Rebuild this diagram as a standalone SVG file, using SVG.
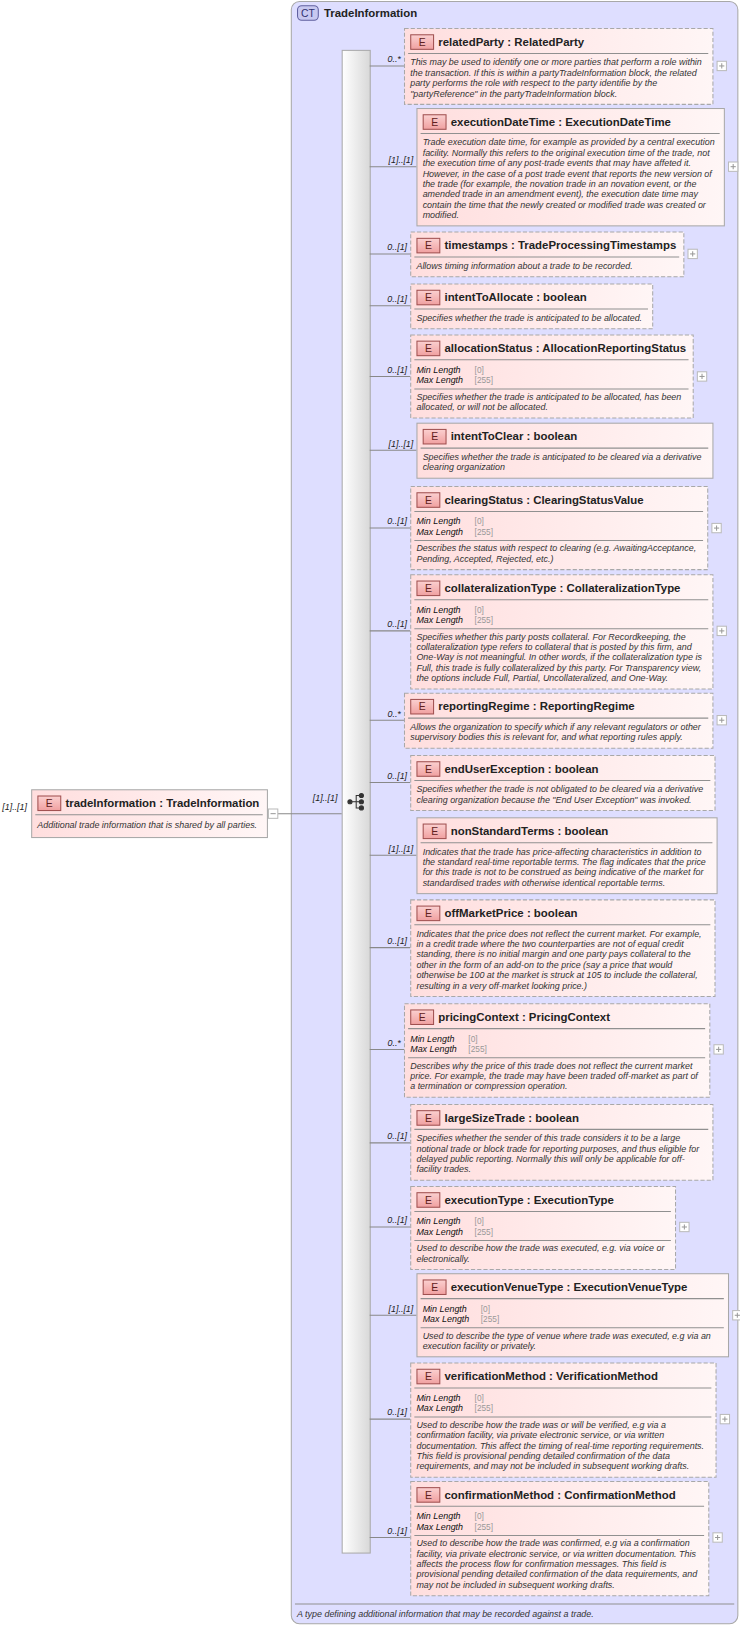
<svg xmlns="http://www.w3.org/2000/svg" width="740" height="1626" viewBox="0 0 740 1626">
<defs>
<linearGradient id="ng" x1="0" y1="0" x2="1" y2="0"><stop offset="0" stop-color="#ffdede"/><stop offset="1" stop-color="#fff6f6"/></linearGradient>
<linearGradient id="bg" x1="0" y1="0" x2="0" y2="1"><stop offset="0" stop-color="#fbd0d0"/><stop offset="1" stop-color="#f0a0a0"/></linearGradient>
<linearGradient id="sg" x1="0" y1="0" x2="1" y2="0"><stop offset="0" stop-color="#ffffff"/><stop offset="1" stop-color="#d8d8d8"/></linearGradient>
<style>
text{font-family:"Liberation Sans",Arial,sans-serif}
.req{fill:url(#ng);stroke:#a8a8a8;stroke-width:1}
.opt{fill:url(#ng);stroke:#a8a8a8;stroke-width:1;stroke-dasharray:4,2}
.badge{fill:url(#bg);stroke:#a05050;stroke-width:1}
.e{font-size:10px;fill:#602020;text-anchor:middle}
.t{font-size:11px;font-weight:bold;fill:#222}
.sep{stroke:#909090;stroke-width:1}
.d{font-size:8.6px;font-style:italic;fill:#333}
.f{font-size:8.6px;font-style:italic;fill:#111}
.fv{font-size:8px;fill:#999}
.m{font-size:8.6px;font-style:italic;fill:#222;text-anchor:end}
.ln{stroke:#888;stroke-width:1;fill:none}
.pb{fill:#fff;stroke:#bbb;stroke-width:1}
.pl{stroke:#999;stroke-width:1}
</style>
</defs>
<g transform="scale(1.0385)">
<g id="ct">
<rect x="280.5" y="1.5" width="430" height="1562" rx="8" fill="#dedeff" stroke="#a8a8a8"/>
<rect x="286.5" y="5.5" width="20" height="14" rx="4" fill="#c8c8f0" stroke="#6060a0"/>
<text x="296.5" y="16" style="font-size:10px;fill:#303070;text-anchor:middle">CT</text>
<text x="312" y="16" class="t">TradeInformation</text>
<line x1="284" y1="1544.5" x2="707" y2="1544.5" class="sep"/>
<text x="286" y="1557" class="d">A type defining additional information that may be recorded against a trade.</text>
</g>

<g id="sequence">
<rect x="329.5" y="48.5" width="27" height="1447" fill="url(#sg)" stroke="#aaa"/>
<g stroke="#333" stroke-width="1" fill="#333">
<circle cx="337" cy="772" r="2"/>
<line x1="339" y1="772" x2="343" y2="772"/>
<polyline points="347,766 343,766 343,778 347,778" fill="none"/>
<line x1="343" y1="772" x2="347" y2="772"/>
<circle cx="348" cy="766" r="2"/><circle cx="348" cy="772" r="2"/><circle cx="348" cy="778" r="2"/>
</g>
</g>

<g id="connectors">
<line x1="267" y1="783.5" x2="329" y2="783.5" class="ln"/>
<text x="325" y="771" class="m">[1]..[1]</text>
<line x1="356" y1="63.5" x2="389" y2="63.5" class="ln"/><text x="386" y="60" class="m">0..*</text>
<line x1="356" y1="160.5" x2="401" y2="160.5" class="ln"/><text x="398" y="157" class="m">[1]..[1]</text>
<line x1="356" y1="244.5" x2="395" y2="244.5" class="ln"/><text x="392" y="241" class="m">0..[1]</text>
<line x1="356" y1="294.5" x2="395" y2="294.5" class="ln"/><text x="392" y="291" class="m">0..[1]</text>
<line x1="356" y1="362.5" x2="395" y2="362.5" class="ln"/><text x="392" y="359" class="m">0..[1]</text>
<line x1="356" y1="433.5" x2="401" y2="433.5" class="ln"/><text x="398" y="430" class="m">[1]..[1]</text>
<line x1="356" y1="508.5" x2="395" y2="508.5" class="ln"/><text x="392" y="505" class="m">0..[1]</text>
<line x1="356" y1="607.5" x2="395" y2="607.5" class="ln"/><text x="392" y="604" class="m">0..[1]</text>
<line x1="356" y1="693.5" x2="389" y2="693.5" class="ln"/><text x="386" y="690" class="m">0..*</text>
<line x1="356" y1="753.5" x2="395" y2="753.5" class="ln"/><text x="392" y="750" class="m">0..[1]</text>
<line x1="356" y1="823.5" x2="401" y2="823.5" class="ln"/><text x="398" y="820" class="m">[1]..[1]</text>
<line x1="356" y1="912.5" x2="395" y2="912.5" class="ln"/><text x="392" y="909" class="m">0..[1]</text>
<line x1="356" y1="1010.5" x2="389" y2="1010.5" class="ln"/><text x="386" y="1007" class="m">0..*</text>
<line x1="356" y1="1100.5" x2="395" y2="1100.5" class="ln"/><text x="392" y="1097" class="m">0..[1]</text>
<line x1="356" y1="1181.5" x2="395" y2="1181.5" class="ln"/><text x="392" y="1178" class="m">0..[1]</text>
<line x1="356" y1="1266.5" x2="401" y2="1266.5" class="ln"/><text x="398" y="1263" class="m">[1]..[1]</text>
<line x1="356" y1="1366.5" x2="395" y2="1366.5" class="ln"/><text x="392" y="1363" class="m">0..[1]</text>
<line x1="356" y1="1480.5" x2="395" y2="1480.5" class="ln"/><text x="392" y="1477" class="m">0..[1]</text>
</g>

<g id="tradeInformation" transform="translate(30,760)">
<text x="-4" y="20" class="m">[1]..[1]</text>
<rect x="0.5" y="0.5" width="227" height="46" class="req"/>
<rect x="6.5" y="6.5" width="22" height="14" class="badge"/><text x="17.5" y="17" class="e">E</text>
<text x="33" y="17" class="t">tradeInformation : TradeInformation</text>
<line x1="4" y1="24.5" x2="223" y2="24.5" class="sep"/>
<text x="6" y="37" class="d">Additional trade information that is shared by all parties.</text>
<rect x="228.5" y="19" width="9" height="9" class="pb"/><line x1="230.5" y1="23.5" x2="235.5" y2="23.5" class="pl"/>
</g>

<g id="relatedParty" transform="translate(389,27)">
<rect x="0.5" y="0.5" width="297" height="73" class="opt"/>
<rect x="6.5" y="6.5" width="22" height="14" class="badge"/><text x="17.5" y="17" class="e">E</text>
<text x="33" y="17" class="t">relatedParty : RelatedParty</text>
<line x1="4" y1="24.5" x2="293" y2="24.5" class="sep"/>
<text x="6" y="36" class="d">This may be used to identify one or more parties that perform a role within</text>
<text x="6" y="46" class="d">the transaction. If this is within a partyTradeInformation block, the related</text>
<text x="6" y="56" class="d">party performs the role with respect to the party identifie by the</text>
<text x="6" y="66" class="d">"partyReference" in the partyTradeInformation block.</text>
<rect x="301.5" y="32" width="9" height="9" class="pb"/><line x1="303.5" y1="36.5" x2="308.5" y2="36.5" class="pl"/><line x1="306" y1="34" x2="306" y2="39" class="pl"/>
</g>

<g id="executionDateTime" transform="translate(401,104)">
<rect x="0.5" y="0.5" width="296" height="113" class="req"/>
<rect x="6.5" y="6.5" width="22" height="14" class="badge"/><text x="17.5" y="17" class="e">E</text>
<text x="33" y="17" class="t">executionDateTime : ExecutionDateTime</text>
<line x1="4" y1="24.5" x2="292" y2="24.5" class="sep"/>
<text x="6" y="36" class="d">Trade execution date time, for example as provided by a central execution</text>
<text x="6" y="46" class="d">facility. Normally this refers to the original execution time of the trade, not</text>
<text x="6" y="56" class="d">the execution time of any post-trade events that may have affeted it.</text>
<text x="6" y="66" class="d">However, in the case of a post trade event that reports the new version of</text>
<text x="6" y="76" class="d">the trade (for example, the novation trade in an novation event, or the</text>
<text x="6" y="86" class="d">amended trade in an amendment event), the execution date time may</text>
<text x="6" y="96" class="d">contain the time that the newly created or modified trade was created or</text>
<text x="6" y="106" class="d">modified.</text>
<rect x="300.5" y="52" width="9" height="9" class="pb"/><line x1="302.5" y1="56.5" x2="307.5" y2="56.5" class="pl"/><line x1="305" y1="54" x2="305" y2="59" class="pl"/>
</g>

<g id="timestamps" transform="translate(395,223)">
<rect x="0.5" y="0.5" width="263" height="43" class="opt"/>
<rect x="6.5" y="6.5" width="22" height="14" class="badge"/><text x="17.5" y="17" class="e">E</text>
<text x="33" y="17" class="t">timestamps : TradeProcessingTimestamps</text>
<line x1="4" y1="24.5" x2="259" y2="24.5" class="sep"/>
<text x="6" y="36" class="d">Allows timing information about a trade to be recorded.</text>
<rect x="267.5" y="17" width="9" height="9" class="pb"/><line x1="269.5" y1="21.5" x2="274.5" y2="21.5" class="pl"/><line x1="272" y1="19" x2="272" y2="24" class="pl"/>
</g>

<g id="intentToAllocate" transform="translate(395,273)">
<rect x="0.5" y="0.5" width="233" height="43" class="opt"/>
<rect x="6.5" y="6.5" width="22" height="14" class="badge"/><text x="17.5" y="17" class="e">E</text>
<text x="33" y="17" class="t">intentToAllocate : boolean</text>
<line x1="4" y1="24.5" x2="229" y2="24.5" class="sep"/>
<text x="6" y="36" class="d">Specifies whether the trade is anticipated to be allocated.</text>
</g>

<g id="allocationStatus" transform="translate(395,322)">
<rect x="0.5" y="0.5" width="272" height="80" class="opt"/>
<rect x="6.5" y="6.5" width="22" height="14" class="badge"/><text x="17.5" y="17" class="e">E</text>
<text x="33" y="17" class="t">allocationStatus : AllocationReportingStatus</text>
<line x1="4" y1="24.5" x2="268" y2="24.5" class="sep"/>
<text x="6" y="37" class="f">Min Length</text><text x="62" y="37" class="fv">[0]</text>
<text x="6" y="47" class="f">Max Length</text><text x="62" y="47" class="fv">[255]</text>
<line x1="4" y1="52.5" x2="268" y2="52.5" class="sep"/>
<text x="6" y="63" class="d">Specifies whether the trade is anticipated to be allocated, has been</text>
<text x="6" y="73" class="d">allocated, or will not be allocated.</text>
<rect x="276.5" y="36" width="9" height="9" class="pb"/><line x1="278.5" y1="40.5" x2="283.5" y2="40.5" class="pl"/><line x1="281" y1="38" x2="281" y2="43" class="pl"/>
</g>

<g id="intentToClear" transform="translate(401,407)">
<rect x="0.5" y="0.5" width="285" height="53" class="req"/>
<rect x="6.5" y="6.5" width="22" height="14" class="badge"/><text x="17.5" y="17" class="e">E</text>
<text x="33" y="17" class="t">intentToClear : boolean</text>
<line x1="4" y1="24.5" x2="281" y2="24.5" class="sep"/>
<text x="6" y="36" class="d">Specifies whether the trade is anticipated to be cleared via a derivative</text>
<text x="6" y="46" class="d">clearing organization</text>
</g>

<g id="clearingStatus" transform="translate(395,468)">
<rect x="0.5" y="0.5" width="286" height="80" class="opt"/>
<rect x="6.5" y="6.5" width="22" height="14" class="badge"/><text x="17.5" y="17" class="e">E</text>
<text x="33" y="17" class="t">clearingStatus : ClearingStatusValue</text>
<line x1="4" y1="24.5" x2="282" y2="24.5" class="sep"/>
<text x="6" y="37" class="f">Min Length</text><text x="62" y="37" class="fv">[0]</text>
<text x="6" y="47" class="f">Max Length</text><text x="62" y="47" class="fv">[255]</text>
<line x1="4" y1="52.5" x2="282" y2="52.5" class="sep"/>
<text x="6" y="63" class="d">Describes the status with respect to clearing (e.g. AwaitingAcceptance,</text>
<text x="6" y="73" class="d">Pending, Accepted, Rejected, etc.)</text>
<rect x="290.5" y="36" width="9" height="9" class="pb"/><line x1="292.5" y1="40.5" x2="297.5" y2="40.5" class="pl"/><line x1="295" y1="38" x2="295" y2="43" class="pl"/>
</g>

<g id="collateralizationType" transform="translate(395,553)">
<rect x="0.5" y="0.5" width="291" height="110" class="opt"/>
<rect x="6.5" y="6.5" width="22" height="14" class="badge"/><text x="17.5" y="17" class="e">E</text>
<text x="33" y="17" class="t">collateralizationType : CollateralizationType</text>
<line x1="4" y1="24.5" x2="287" y2="24.5" class="sep"/>
<text x="6" y="37" class="f">Min Length</text><text x="62" y="37" class="fv">[0]</text>
<text x="6" y="47" class="f">Max Length</text><text x="62" y="47" class="fv">[255]</text>
<line x1="4" y1="52.5" x2="287" y2="52.5" class="sep"/>
<text x="6" y="63" class="d">Specifies whether this party posts collateral. For Recordkeeping, the</text>
<text x="6" y="73" class="d">collateralization type refers to collateral that is posted by this firm, and</text>
<text x="6" y="83" class="d">One-Way is not meaningful. In other words, if the collateralization type is</text>
<text x="6" y="93" class="d">Full, this trade is fully collateralized by this party. For Transparency view,</text>
<text x="6" y="103" class="d">the options include Full, Partial, Uncollateralized, and One-Way.</text>
<rect x="295.5" y="50" width="9" height="9" class="pb"/><line x1="297.5" y1="54.5" x2="302.5" y2="54.5" class="pl"/><line x1="300" y1="52" x2="300" y2="57" class="pl"/>
</g>

<g id="reportingRegime" transform="translate(389,667)">
<rect x="0.5" y="0.5" width="297" height="53" class="opt"/>
<rect x="6.5" y="6.5" width="22" height="14" class="badge"/><text x="17.5" y="17" class="e">E</text>
<text x="33" y="17" class="t">reportingRegime : ReportingRegime</text>
<line x1="4" y1="24.5" x2="293" y2="24.5" class="sep"/>
<text x="6" y="36" class="d">Allows the organization to specify which if any relevant regulators or other</text>
<text x="6" y="46" class="d">supervisory bodies this is relevant for, and what reporting rules apply.</text>
<rect x="301.5" y="22" width="9" height="9" class="pb"/><line x1="303.5" y1="26.5" x2="308.5" y2="26.5" class="pl"/><line x1="306" y1="24" x2="306" y2="29" class="pl"/>
</g>

<g id="endUserException" transform="translate(395,727)">
<rect x="0.5" y="0.5" width="293" height="53" class="opt"/>
<rect x="6.5" y="6.5" width="22" height="14" class="badge"/><text x="17.5" y="17" class="e">E</text>
<text x="33" y="17" class="t">endUserException : boolean</text>
<line x1="4" y1="24.5" x2="289" y2="24.5" class="sep"/>
<text x="6" y="36" class="d">Specifies whether the trade is not obligated to be cleared via a derivative</text>
<text x="6" y="46" class="d">clearing organization because the "End User Exception" was invoked.</text>
</g>

<g id="nonStandardTerms" transform="translate(401,787)">
<rect x="0.5" y="0.5" width="289" height="73" class="req"/>
<rect x="6.5" y="6.5" width="22" height="14" class="badge"/><text x="17.5" y="17" class="e">E</text>
<text x="33" y="17" class="t">nonStandardTerms : boolean</text>
<line x1="4" y1="24.5" x2="285" y2="24.5" class="sep"/>
<text x="6" y="36" class="d">Indicates that the trade has price-affecting characteristics in addition to</text>
<text x="6" y="46" class="d">the standard real-time reportable terms. The flag indicates that the price</text>
<text x="6" y="56" class="d">for this trade is not to be construed as being indicative of the market for</text>
<text x="6" y="66" class="d">standardised trades with otherwise identical reportable terms.</text>
</g>

<g id="offMarketPrice" transform="translate(395,866)">
<rect x="0.5" y="0.5" width="293" height="93" class="opt"/>
<rect x="6.5" y="6.5" width="22" height="14" class="badge"/><text x="17.5" y="17" class="e">E</text>
<text x="33" y="17" class="t">offMarketPrice : boolean</text>
<line x1="4" y1="24.5" x2="289" y2="24.5" class="sep"/>
<text x="6" y="36" class="d">Indicates that the price does not reflect the current market. For example,</text>
<text x="6" y="46" class="d">in a credit trade where the two counterparties are not of equal credit</text>
<text x="6" y="56" class="d">standing, there is no initial margin and one party pays collateral to the</text>
<text x="6" y="66" class="d">other in the form of an add-on to the price (say a price that would</text>
<text x="6" y="76" class="d">otherwise be 100 at the market is struck at 105 to include the collateral,</text>
<text x="6" y="86" class="d">resulting in a very off-market looking price.)</text>
</g>

<g id="pricingContext" transform="translate(389,966)">
<rect x="0.5" y="0.5" width="294" height="90" class="opt"/>
<rect x="6.5" y="6.5" width="22" height="14" class="badge"/><text x="17.5" y="17" class="e">E</text>
<text x="33" y="17" class="t">pricingContext : PricingContext</text>
<line x1="4" y1="24.5" x2="290" y2="24.5" class="sep"/>
<text x="6" y="37" class="f">Min Length</text><text x="62" y="37" class="fv">[0]</text>
<text x="6" y="47" class="f">Max Length</text><text x="62" y="47" class="fv">[255]</text>
<line x1="4" y1="52.5" x2="290" y2="52.5" class="sep"/>
<text x="6" y="63" class="d">Describes why the price of this trade does not reflect the current market</text>
<text x="6" y="73" class="d">price. For example, the trade may have been traded off-market as part of</text>
<text x="6" y="83" class="d">a termination or compression operation.</text>
<rect x="298.5" y="40" width="9" height="9" class="pb"/><line x1="300.5" y1="44.5" x2="305.5" y2="44.5" class="pl"/><line x1="303" y1="42" x2="303" y2="47" class="pl"/>
</g>

<g id="largeSizeTrade" transform="translate(395,1063)">
<rect x="0.5" y="0.5" width="291" height="73" class="opt"/>
<rect x="6.5" y="6.5" width="22" height="14" class="badge"/><text x="17.5" y="17" class="e">E</text>
<text x="33" y="17" class="t">largeSizeTrade : boolean</text>
<line x1="4" y1="24.5" x2="287" y2="24.5" class="sep"/>
<text x="6" y="36" class="d">Specifies whether the sender of this trade considers it to be a large</text>
<text x="6" y="46" class="d">notional trade or block trade for reporting purposes, and thus eligible for</text>
<text x="6" y="56" class="d">delayed public reporting. Normally this will only be applicable for off-</text>
<text x="6" y="66" class="d">facility trades.</text>
</g>

<g id="executionType" transform="translate(395,1142)">
<rect x="0.5" y="0.5" width="255" height="80" class="opt"/>
<rect x="6.5" y="6.5" width="22" height="14" class="badge"/><text x="17.5" y="17" class="e">E</text>
<text x="33" y="17" class="t">executionType : ExecutionType</text>
<line x1="4" y1="24.5" x2="251" y2="24.5" class="sep"/>
<text x="6" y="37" class="f">Min Length</text><text x="62" y="37" class="fv">[0]</text>
<text x="6" y="47" class="f">Max Length</text><text x="62" y="47" class="fv">[255]</text>
<line x1="4" y1="52.5" x2="251" y2="52.5" class="sep"/>
<text x="6" y="63" class="d">Used to describe how the trade was executed, e.g. via voice or</text>
<text x="6" y="73" class="d">electronically.</text>
<rect x="259.5" y="35" width="9" height="9" class="pb"/><line x1="261.5" y1="39.5" x2="266.5" y2="39.5" class="pl"/><line x1="264" y1="37" x2="264" y2="42" class="pl"/>
</g>

<g id="executionVenueType" transform="translate(401,1226)">
<rect x="0.5" y="0.5" width="300" height="80" class="req"/>
<rect x="6.5" y="6.5" width="22" height="14" class="badge"/><text x="17.5" y="17" class="e">E</text>
<text x="33" y="17" class="t">executionVenueType : ExecutionVenueType</text>
<line x1="4" y1="24.5" x2="296" y2="24.5" class="sep"/>
<text x="6" y="37" class="f">Min Length</text><text x="62" y="37" class="fv">[0]</text>
<text x="6" y="47" class="f">Max Length</text><text x="62" y="47" class="fv">[255]</text>
<line x1="4" y1="52.5" x2="296" y2="52.5" class="sep"/>
<text x="6" y="63" class="d">Used to describe the type of venue where trade was executed, e.g via an</text>
<text x="6" y="73" class="d">execution facility or privately.</text>
<rect x="304.5" y="36" width="9" height="9" class="pb"/><line x1="306.5" y1="40.5" x2="311.5" y2="40.5" class="pl"/><line x1="309" y1="38" x2="309" y2="43" class="pl"/>
</g>

<g id="verificationMethod" transform="translate(395,1312)">
<rect x="0.5" y="0.5" width="294" height="110" class="opt"/>
<rect x="6.5" y="6.5" width="22" height="14" class="badge"/><text x="17.5" y="17" class="e">E</text>
<text x="33" y="17" class="t">verificationMethod : VerificationMethod</text>
<line x1="4" y1="24.5" x2="290" y2="24.5" class="sep"/>
<text x="6" y="37" class="f">Min Length</text><text x="62" y="37" class="fv">[0]</text>
<text x="6" y="47" class="f">Max Length</text><text x="62" y="47" class="fv">[255]</text>
<line x1="4" y1="52.5" x2="290" y2="52.5" class="sep"/>
<text x="6" y="63" class="d">Used to describe how the trade was or will be verified, e.g via a</text>
<text x="6" y="73" class="d">confirmation facility, via private electronic service, or via written</text>
<text x="6" y="83" class="d">documentation. This affect the timing of real-time reporting requirements.</text>
<text x="6" y="93" class="d">This field is provisional pending detailed confirmation of the data</text>
<text x="6" y="103" class="d">requirements, and may not be included in subsequent working drafts.</text>
<rect x="298.5" y="50" width="9" height="9" class="pb"/><line x1="300.5" y1="54.5" x2="305.5" y2="54.5" class="pl"/><line x1="303" y1="52" x2="303" y2="57" class="pl"/>
</g>

<g id="confirmationMethod" transform="translate(395,1426)">
<rect x="0.5" y="0.5" width="287" height="110" class="opt"/>
<rect x="6.5" y="6.5" width="22" height="14" class="badge"/><text x="17.5" y="17" class="e">E</text>
<text x="33" y="17" class="t">confirmationMethod : ConfirmationMethod</text>
<line x1="4" y1="24.5" x2="283" y2="24.5" class="sep"/>
<text x="6" y="37" class="f">Min Length</text><text x="62" y="37" class="fv">[0]</text>
<text x="6" y="47" class="f">Max Length</text><text x="62" y="47" class="fv">[255]</text>
<line x1="4" y1="52.5" x2="283" y2="52.5" class="sep"/>
<text x="6" y="63" class="d">Used to describe how the trade was confirmed, e.g via a confirmation</text>
<text x="6" y="73" class="d">facility, via private electronic service, or via written documentation. This</text>
<text x="6" y="83" class="d">affects the process flow for confirmation messages. This field is</text>
<text x="6" y="93" class="d">provisional pending detailed confirmation of the data requirements, and</text>
<text x="6" y="103" class="d">may not be included in subsequent working drafts.</text>
<rect x="291.5" y="50" width="9" height="9" class="pb"/><line x1="293.5" y1="54.5" x2="298.5" y2="54.5" class="pl"/><line x1="296" y1="52" x2="296" y2="57" class="pl"/>
</g>
</g>
</svg>
